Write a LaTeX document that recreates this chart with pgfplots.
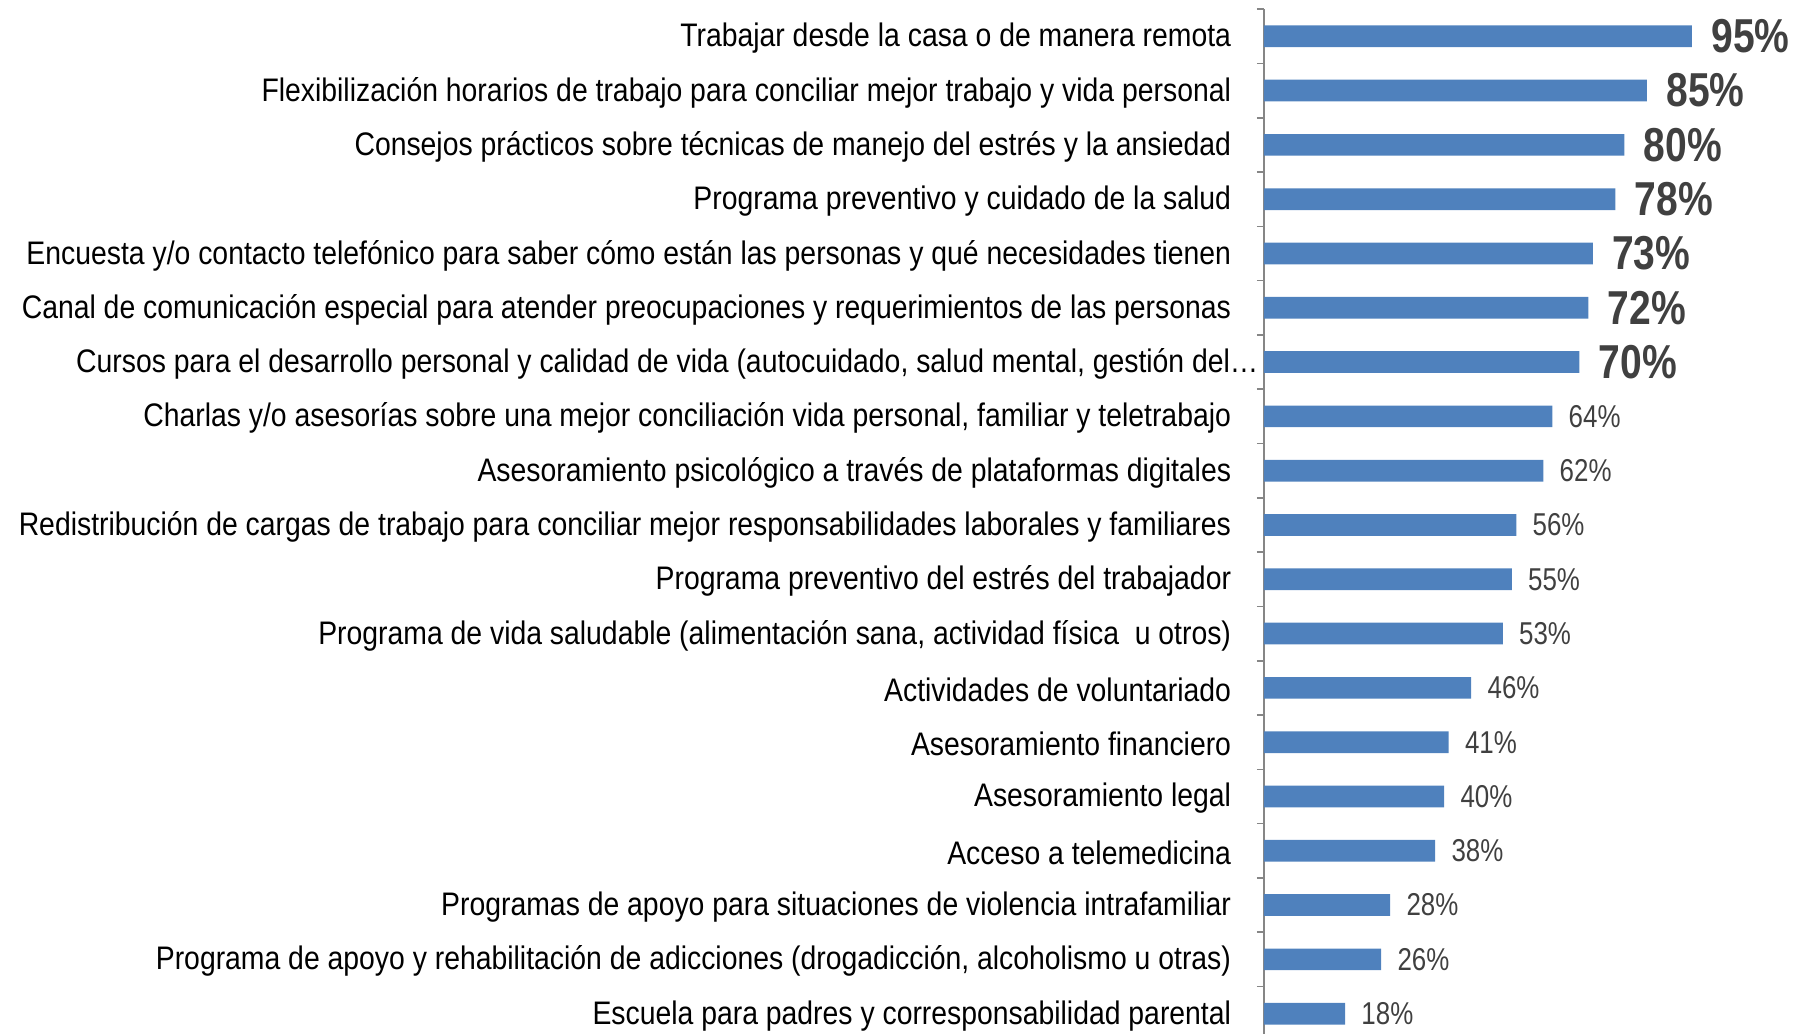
\documentclass[border=0pt]{standalone}
\usepackage{pgfplots}
\pgfplotsset{compat=1.18}
\usepackage{fontspec}
\setmainfont{Liberation Sans}[FakeStretch=0.82]
\newfontfamily\labelfont{Liberation Sans}[FakeStretch=0.87]
\definecolor{barblue}{HTML}{4F81BD}
\definecolor{valgray}{HTML}{404040}
\definecolor{axgray}{HTML}{868686}
\begin{document}
\begin{tikzpicture}
\begin{axis}[
  scale only axis,
  width=225.25pt, height=515.85pt,
  xmin=0, xmax=100, ymin=-0.5, ymax=18.5,
  y dir=reverse,
  axis y line*=left, axis x line=none,
  axis line style={axgray, line width=0.8pt},
  xbar, bar width=10.85pt, bar shift=0pt,
  ytick={0,...,18},
  major tick length=0pt,
  minor ytick={-0.5,0.5,...,18.5},
  minor tick length=3.5pt,
  tick align=outside,
  minor tick style={axgray, line width=0.8pt},
  yticklabels={
    Trabajar desde la casa o de manera remota,
    Flexibilización horarios de trabajo para conciliar mejor trabajo y vida personal,
    Consejos prácticos sobre técnicas de manejo del estrés y la ansiedad,
    Programa preventivo y cuidado de la salud,
    Encuesta y/o contacto telefónico para saber cómo están las personas y qué necesidades tienen,
    Canal de comunicación especial para atender preocupaciones y requerimientos de las personas,
    {Cursos para el desarrollo personal y calidad de vida (autocuidado, salud mental, gestión del…\kern-13.75pt},
    {Charlas y/o asesorías sobre una mejor conciliación vida personal, familiar y teletrabajo},
    Asesoramiento psicológico a través de plataformas digitales,
    Redistribución de cargas de trabajo para conciliar mejor responsabilidades laborales y familiares,
    Programa preventivo del estrés del trabajador,
    {Programa de vida saludable (alimentación sana, actividad física\ \ u otros)},
    Actividades de voluntariado,
    Asesoramiento financiero,
    Asesoramiento legal,
    Acceso a telemedicina,
    Programas de apoyo para situaciones de violencia intrafamiliar,
    {Programa de apoyo y rehabilitación de adicciones (drogadicción, alcoholismo u otras)},
    Escuela para padres y corresponsabilidad parental
  },
  yticklabel style={anchor=east, inner sep=0pt, xshift=-16.25pt, font=\labelfont\fontsize{16.3}{18}\selectfont, text=black, yshift=-1pt},
  clip=false,
  nodes near coords={\pgfmathprintnumber[assume math mode=true]{\pgfplotspointmeta}\%},
]
\addplot[fill=barblue, draw=none,
  every node near coord/.append style={anchor=west, inner sep=0pt, xshift=9.5pt, text=valgray, font=\bfseries\fontsize{23.8}{26}\selectfont}]
  coordinates {(95,0) (85,1) (80,2) (78,3) (73,4) (72,5) (70,6)};
\addplot[fill=barblue, draw=none,
  every node near coord/.append style={anchor=west, inner sep=0pt, xshift=8pt, text=valgray, font=\fontsize{15.8}{17}\selectfont}]
  coordinates {(64,7) (62,8) (56,9) (55,10) (53,11) (46,12) (41,13) (40,14) (38,15) (28,16) (26,17) (18,18)};
\end{axis}
\pgfresetboundingbox
\path[use as bounding box] (-632pt,3.9pt) rectangle (264.5pt,520.4pt);
\end{tikzpicture}
\end{document}
